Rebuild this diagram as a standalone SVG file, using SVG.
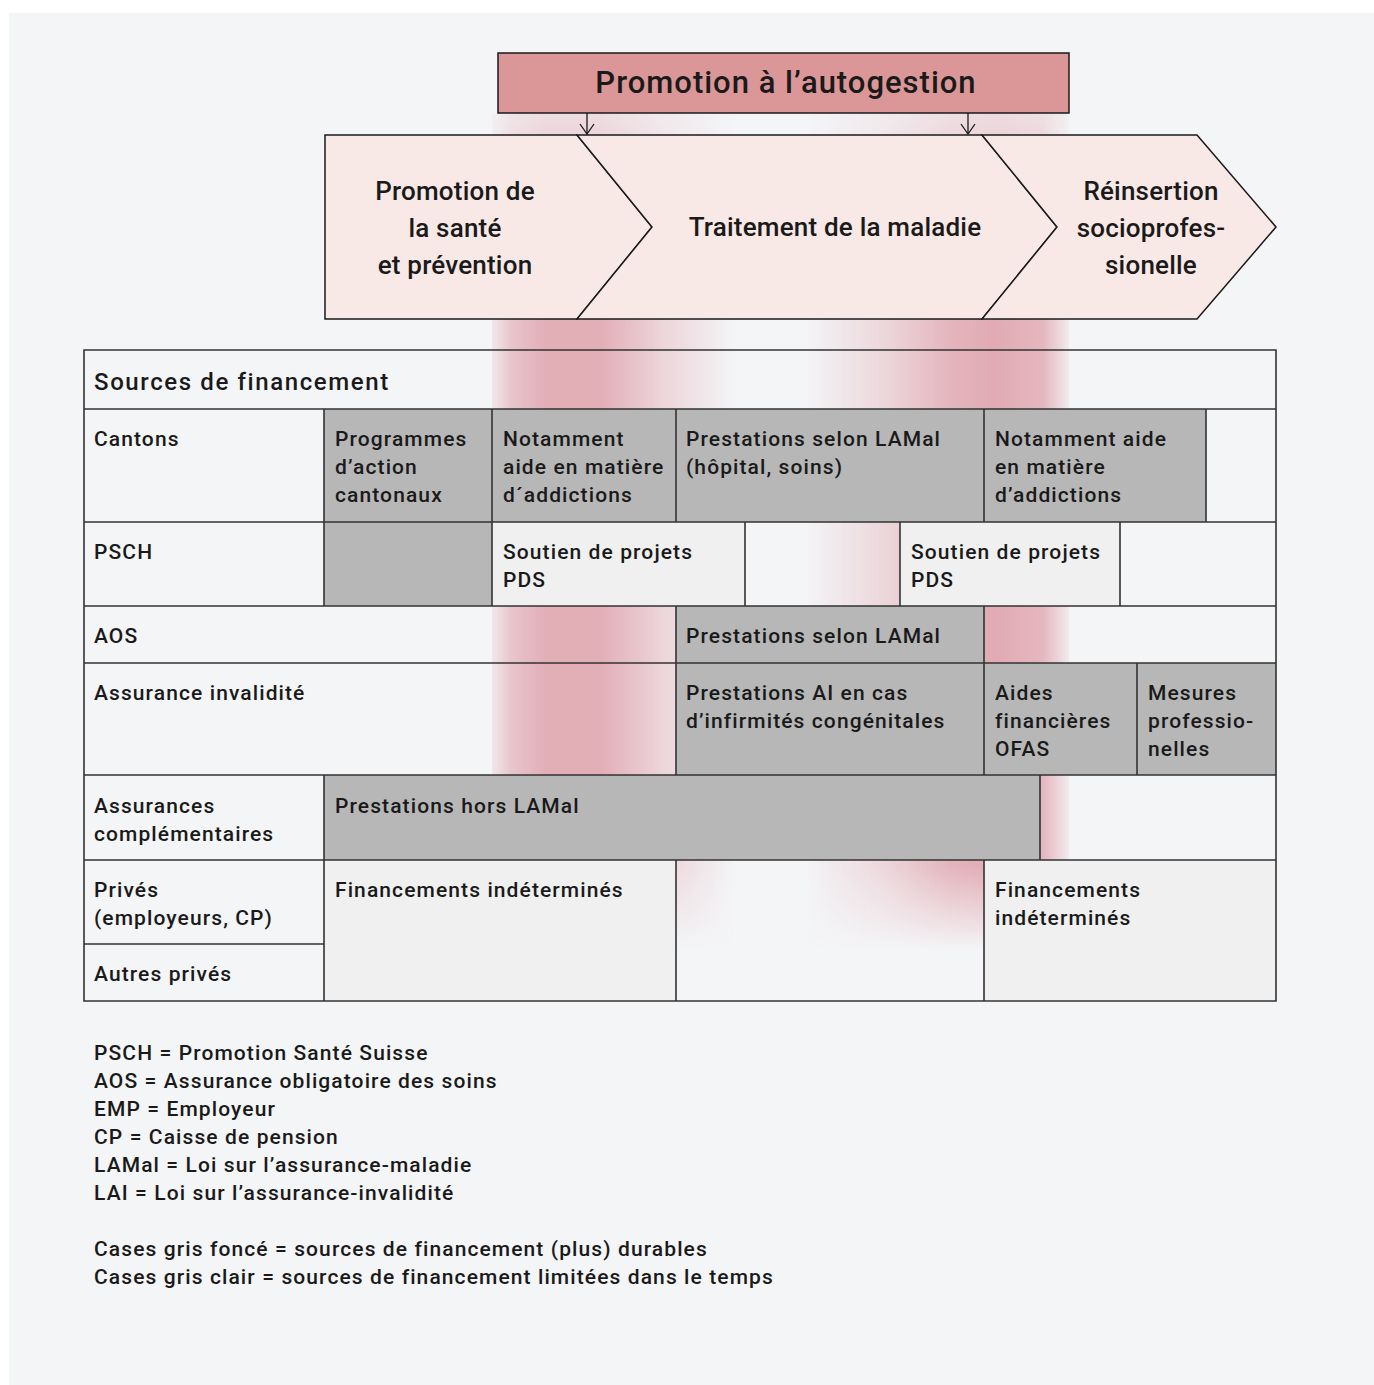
<svg xmlns="http://www.w3.org/2000/svg" width="1374" height="1385" viewBox="0 0 1374 1385">
<style>
text{font-family:"Roboto","Liberation Sans",sans-serif;font-weight:500;fill:#1a1a1a}
.c{font-size:21px;letter-spacing:1.1px}
.h{font-size:24px;letter-spacing:1.6px}
.ch{font-size:26px;text-anchor:middle;letter-spacing:0.2px}
.t{font-size:31px;text-anchor:middle;letter-spacing:1px}
.dk{fill:#b7b7b7}
.lt{fill:#eff0ef}
.ln{stroke:#333;stroke-width:1.6;fill:none}
.chev{fill:#f8e8e6;stroke:#1a1a1a;stroke-width:1.5}
.arr{stroke:#1a1a1a;stroke-width:1.3;marker-end:url(#ah)}
</style>
<defs>
<linearGradient id="b1" gradientUnits="userSpaceOnUse" x1="492" y1="0" x2="735" y2="0">
<stop offset="0" stop-color="#d98a96" stop-opacity="0.12"/>
<stop offset="0.08" stop-color="#d98a96" stop-opacity="0.45"/>
<stop offset="0.22" stop-color="#d98a96" stop-opacity="0.66"/>
<stop offset="0.45" stop-color="#d98a96" stop-opacity="0.66"/>
<stop offset="0.7" stop-color="#d98a96" stop-opacity="0.3"/>
<stop offset="1" stop-color="#d98a96" stop-opacity="0"/>
</linearGradient>
<linearGradient id="b2" gradientUnits="userSpaceOnUse" x1="805" y1="0" x2="1069" y2="0">
<stop offset="0" stop-color="#d98a96" stop-opacity="0"/>
<stop offset="0.3" stop-color="#d98a96" stop-opacity="0.28"/>
<stop offset="0.55" stop-color="#d98a96" stop-opacity="0.6"/>
<stop offset="0.72" stop-color="#d98a96" stop-opacity="0.7"/>
<stop offset="0.9" stop-color="#d98a96" stop-opacity="0.58"/>
<stop offset="0.97" stop-color="#d98a96" stop-opacity="0.25"/>
<stop offset="1" stop-color="#d98a96" stop-opacity="0.08"/>
</linearGradient>
<linearGradient id="vf" gradientUnits="userSpaceOnUse" x1="0" y1="113" x2="0" y2="950">
<stop offset="0" stop-color="#555"/>
<stop offset="0.05" stop-color="#888"/>
<stop offset="0.25" stop-color="#fff"/>
<stop offset="0.9" stop-color="#fff"/>
<stop offset="1" stop-color="#000"/>
</linearGradient>
<mask id="m" maskUnits="userSpaceOnUse" x="0" y="0" width="1374" height="1385">
<rect x="0" y="113" width="1374" height="840" fill="url(#vf)"/>
</mask>
<marker id="ah" viewBox="0 0 12 16" refX="11" refY="8" markerWidth="12" markerHeight="16" markerUnits="userSpaceOnUse" orient="auto">
<path d="M1,1 L11,8 L1,15" fill="none" stroke="#1a1a1a" stroke-width="1.3"/>
</marker>
</defs>
<rect x="0" y="0" width="1374" height="1385" fill="#ffffff"/>
<rect x="9" y="13" width="1365" height="1372" fill="#f4f5f7"/>
<g id="bands" mask="url(#m)">
<rect x="492" y="113" width="243" height="840" fill="url(#b1)"/>
<rect x="805" y="113" width="264" height="840" fill="url(#b2)"/>
</g>
<g id="table">
<rect class="dk" x="324" y="409" width="168" height="197"/>
<rect class="dk" x="492" y="409" width="184" height="113"/>
<rect class="dk" x="676" y="409" width="308" height="113"/>
<rect class="dk" x="984" y="409" width="222" height="113"/>
<rect class="lt" x="492" y="522" width="253" height="84"/>
<rect class="lt" x="900" y="522" width="220" height="84"/>
<rect class="dk" x="676" y="606" width="308" height="57"/>
<rect class="dk" x="676" y="663" width="308" height="112"/>
<rect class="dk" x="984" y="663" width="153" height="112"/>
<rect class="dk" x="1137" y="663" width="139" height="112"/>
<rect class="dk" x="324" y="775" width="716" height="85"/>
<rect class="lt" x="324" y="860" width="352" height="141"/>
<rect class="lt" x="984" y="860" width="292" height="141"/>
<path class="ln" d="M84,350H1276V1001H84Z M84,409H1276 M84,522H1276 M84,606H1276 M84,663H1276 M84,775H1276 M84,860H1276 M84,944H324 M324,409V606 M492,409V606 M676,409V522 M984,409V522 M1206,409V522 M745,522V606 M900,522V606 M1120,522V606 M676,606V775 M984,606V775 M1137,663V775 M324,775V1001 M1040,775V860 M676,860V1001 M984,860V1001"/>
</g>
<g id="cells">
<text class="h" x="94" y="390">Sources de financement</text>
<text class="c" x="94" y="446">Cantons</text>
<text class="c" x="335" y="446">Programmes</text>
<text class="c" x="335" y="474">d’action</text>
<text class="c" x="335" y="502">cantonaux</text>
<text class="c" x="503" y="446">Notamment</text>
<text class="c" x="503" y="474">aide en matière</text>
<text class="c" x="503" y="502">d´addictions</text>
<text class="c" x="686" y="446">Prestations selon LAMal</text>
<text class="c" x="686" y="474">(hôpital, soins)</text>
<text class="c" x="995" y="446">Notamment aide</text>
<text class="c" x="995" y="474">en matière</text>
<text class="c" x="995" y="502">d’addictions</text>
<text class="c" x="94" y="559">PSCH</text>
<text class="c" x="503" y="559">Soutien de projets</text>
<text class="c" x="503" y="587">PDS</text>
<text class="c" x="911" y="559">Soutien de projets</text>
<text class="c" x="911" y="587">PDS</text>
<text class="c" x="94" y="643">AOS</text>
<text class="c" x="686" y="643">Prestations selon LAMal</text>
<text class="c" x="94" y="700">Assurance invalidité</text>
<text class="c" x="686" y="700">Prestations AI en cas</text>
<text class="c" x="686" y="728">d’infirmités congénitales</text>
<text class="c" x="995" y="700">Aides</text>
<text class="c" x="995" y="728">financières</text>
<text class="c" x="995" y="756">OFAS</text>
<text class="c" x="1148" y="700">Mesures</text>
<text class="c" x="1148" y="728">professio-</text>
<text class="c" x="1148" y="756">nelles</text>
<text class="c" x="94" y="813">Assurances</text>
<text class="c" x="94" y="841">complémentaires</text>
<text class="c" x="335" y="813">Prestations hors LAMal</text>
<text class="c" x="94" y="897">Privés</text>
<text class="c" x="94" y="925">(employeurs, CP)</text>
<text class="c" x="94" y="981">Autres privés</text>
<text class="c" x="335" y="897">Financements indéterminés</text>
<text class="c" x="995" y="897">Financements</text>
<text class="c" x="995" y="925">indéterminés</text>
</g>
<g id="phases">
<polygon class="chev" points="325,135 577,135 652,227 577,319 325,319"/>
<polygon class="chev" points="577,135 982,135 1057,227 982,319 577,319 652,227"/>
<polygon class="chev" points="982,135 1197,135 1276,227 1197,319 982,319 1057,227"/>
<text class="ch" x="455" y="200">Promotion de</text>
<text class="ch" x="455" y="237">la santé</text>
<text class="ch" x="455" y="274">et prévention</text>
<text class="ch" x="835" y="236">Traitement de la maladie</text>
<text class="ch" x="1151" y="200">Réinsertion</text>
<text class="ch" x="1151" y="237">socioprofes-</text>
<text class="ch" x="1151" y="274">sionelle</text>
</g>
<g id="top">
<rect x="498" y="53" width="571" height="60" fill="#db9797" stroke="#1a1a1a" stroke-width="1.5"/>
<text class="t" x="786" y="93">Promotion à l’autogestion</text>
</g>
<g id="connectors">
<line class="arr" x1="587" y1="113" x2="587" y2="134"/>
<line class="arr" x1="968" y1="113" x2="968" y2="134"/>
</g>
<g id="legend">
<text class="c" x="94" y="1060">PSCH = Promotion Santé Suisse</text>
<text class="c" x="94" y="1088">AOS = Assurance obligatoire des soins</text>
<text class="c" x="94" y="1116">EMP = Employeur</text>
<text class="c" x="94" y="1144">CP = Caisse de pension</text>
<text class="c" x="94" y="1172">LAMal = Loi sur l’assurance-maladie</text>
<text class="c" x="94" y="1200">LAI = Loi sur l’assurance-invalidité</text>
<text class="c" x="94" y="1256">Cases gris foncé = sources de financement (plus) durables</text>
<text class="c" x="94" y="1284">Cases gris clair = sources de financement limitées dans le temps</text>
</g>
</svg>
